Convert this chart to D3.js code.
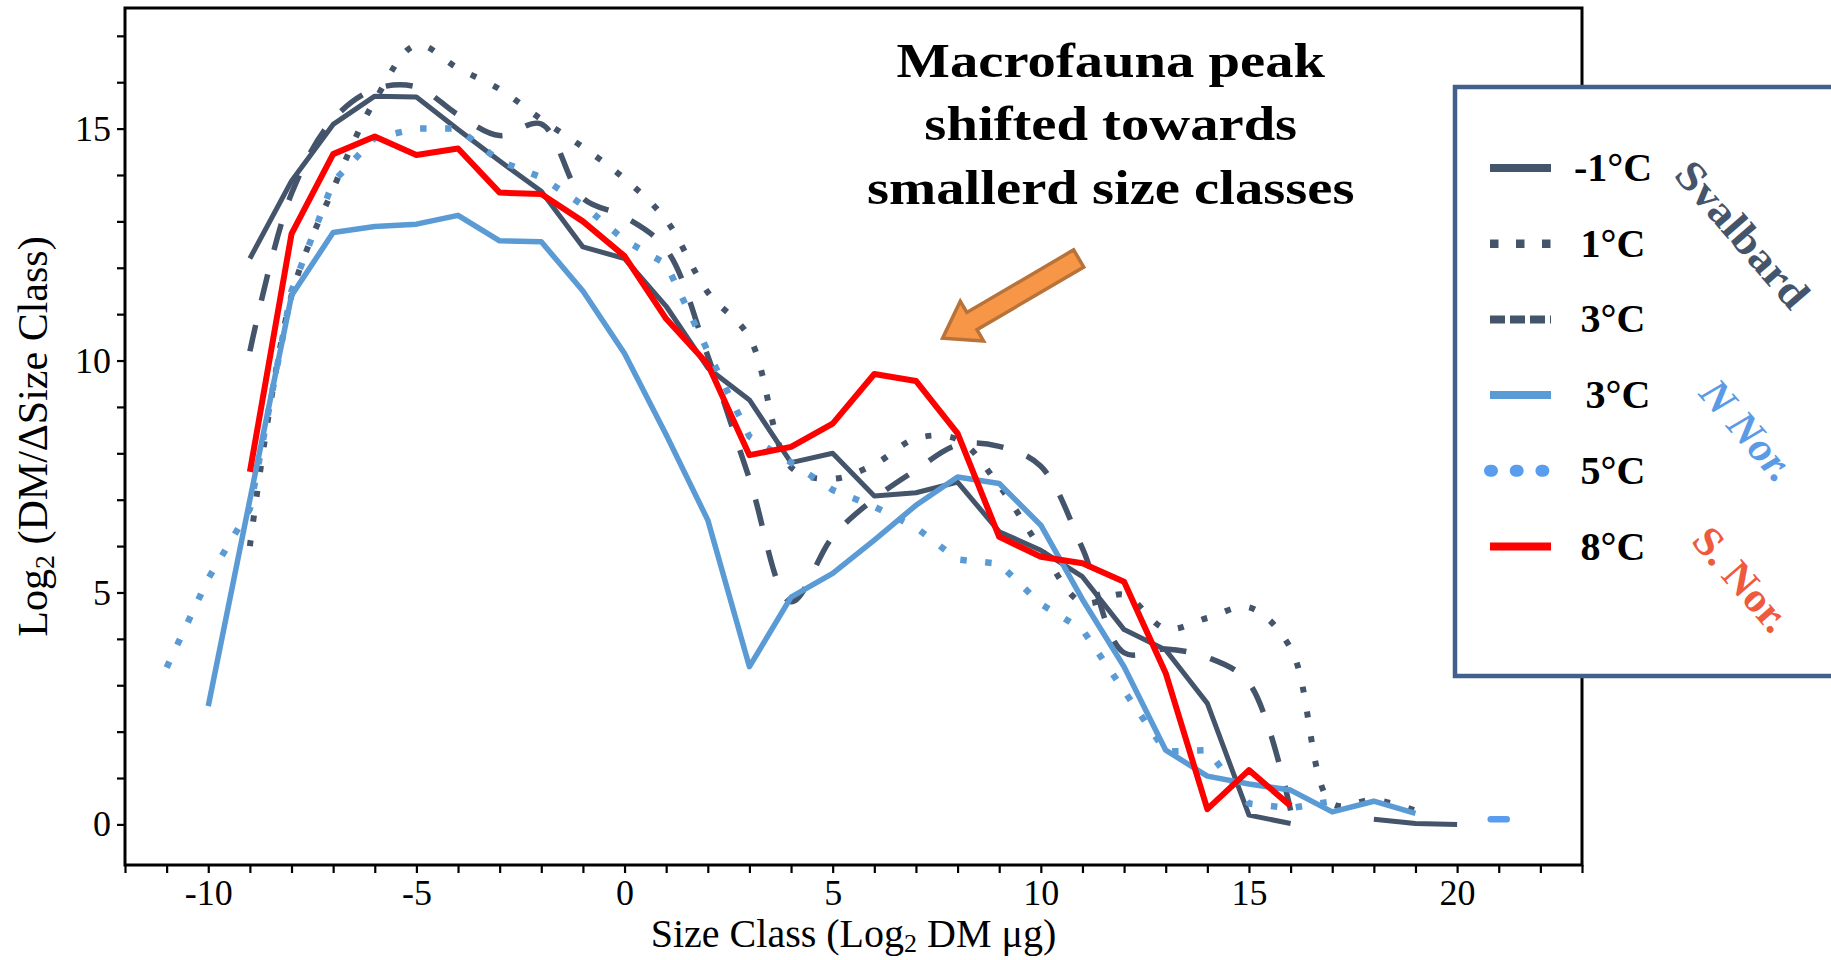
<!DOCTYPE html>
<html>
<head>
<meta charset="utf-8">
<script src="https://cdn.jsdelivr.net/npm/d3@7"></script>
<style>
  html, body { margin: 0; padding: 0; background: #ffffff; }
  svg { display: block; }
  text { font-family: "Liberation Serif", "Times New Roman", serif; }
</style>
</head>
<body>
<svg id="chart" width="1831" height="960"></svg>
<script>
// Size classes (log2 dry mass, µg)
const sizeClass = [-11, -10, -9, -8, -7, -6, -5, -4, -3, -2, -1, 0, 1, 2, 3, 4, 5, 6, 7, 8, 9, 10,
                   11, 12, 13, 14, 15, 16, 17, 18, 19, 20, 21];

// Log2 (DM / ΔSize class) per size class; null = no data
const svalbardMinus1 = [null, null, 12.2, 13.87, 15.09, 15.7, 15.68, 14.98, 14.3, 13.65, 12.45, 12.2, 11.17,
                        9.84, 9.15, 7.8, 8.0, 7.08, 7.15, 7.38, 6.31, 5.91, 5.34, 4.2, 3.76, 2.61, 0.2, 0.02,
                        null, 0.11, 0.02, 0.0, null];
const svalbard1 = [null, null, 6.0, 11.4, 13.7, 15.6, 16.8, 16.3, 15.85, 15.2, 14.6, 13.92, 13.03,
                   11.47, 10.5, 7.7, 7.45, 7.76, 8.32, 8.3, 7.3, 5.95, 4.78, 4.95, 4.22, 4.45, 4.68, 3.8,
                   0.45, 0.53, 0.3, null, null];
const svalbard3 = [null, null, 10.2, 13.6, 15.2, 15.85, 15.9, 15.3, 14.85, 15.1, 13.5, 13.1, 12.4,
                   10.1, 7.45, 4.8, 6.2, 7.02, 7.64, 8.18, 8.15, 7.72, 5.95, 3.7, 3.78, 3.6, 3.05, 0.3,
                   null, null, null, null, null];
const nNorway3 = [null, 2.55, 7.0, 11.4, 12.76, 12.89, 12.94, 13.13, 12.58, 12.56, 11.5, 10.15, 8.4,
                  6.56, 3.4, 4.9, 5.41, 6.13, 6.88, 7.49, 7.35, 6.45, 4.85, 3.4, 1.6, 1.04, 0.87, 0.74,
                  0.27, 0.5, 0.24, null, null];
const nNorway5 = [3.38, 5.3, 6.8, 11.5, 13.85, 14.8, 15.0, 15.0, 14.3, 13.95, 13.35, 12.6, 12.08,
                  10.2, 8.36, 7.8, 7.21, 6.85, 6.4, 5.71, 5.62, 4.75, 4.2, 2.88, 1.57, 1.6, 0.45, 0.35,
                  0.5, null, null, null, 0.11];
const sNorway8 = [null, null, 7.6, 12.73, 14.45, 14.83, 14.43, 14.57, 13.62, 13.59, 13.0, 12.25, 10.9,
                  9.92, 7.96, 8.14, 8.64, 9.71, 9.56, 8.43, 6.2, 5.77, 5.63, 5.23, 3.26, 0.33, 1.17, 0.4,
                  null, null, null, null, null];

// Axis ticks
const xMinorTicks = d3.range(-12, 24);
const xTickLabels = [-10, -5, 0, 5, 10, 15, 20];
const yMinorTicks = d3.range(0, 18);
const yTickLabels = [0, 5, 10, 15];

// Legend text
const legendLabels = ["-1°C", "1°C", "3°C", "3°C", "5°C", "8°C"];
const regionLabels = ["Svalbard", "N Nor.", "S. Nor."];
const noteLines = ["Macrofauna peak", "shifted towards", "smallerd size classes"];

const slate = "#44546A", blue = "#5B9BD5", red = "#FF0000";

const series = [
  { label: legendLabels[0], values: svalbardMinus1, color: slate, width: 5, dash: null, curve: d3.curveLinear,
    key: { width: 8, dash: null, cap: "butt", color: slate } },
  { label: legendLabels[1], values: svalbard1, color: slate, width: 6, dash: "6 19", curve: d3.curveCatmullRom.alpha(0.5),
    key: { width: 8.5, dash: "8.5 17.5", cap: "butt", color: slate } },
  { label: legendLabels[2], values: svalbard3, color: slate, width: 5.5, dash: "27 25", curve: d3.curveCatmullRom.alpha(0.5),
    key: { width: 8, dash: "15 5", cap: "butt", color: slate } },
  { label: legendLabels[3], values: nNorway3, color: blue, width: 5.5, dash: null, curve: d3.curveLinear,
    key: { width: 8, dash: null, cap: "butt", color: blue } },
  { label: legendLabels[4], values: nNorway5, color: blue, width: 6.5, dash: "6.5 18.5", curve: d3.curveLinear,
    key: { width: 12, dash: "2 23.7", cap: "round", color: "#5A9CEE" } },
  { label: legendLabels[5], values: sNorway8, color: red, width: 6, dash: null, curve: d3.curveLinear,
    key: { width: 8, dash: null, cap: "butt", color: red } }
];

const svg = d3.select("#chart");
const W = 1831, H = 960;
const plot = { left: 125, right: 1582, top: 8, bottom: 865 };

const x = d3.scaleLinear().domain([-12, 23]).range([plot.left, plot.right]);
const y = d3.scaleLinear().domain([-0.875, 17.6]).range([plot.bottom, plot.top]);

svg.append("rect").attr("width", W).attr("height", H).attr("fill", "#ffffff");

// ---- data lines ----
const gLines = svg.append("g");
const drawOrder = [0, 1, 2, 4, 3, 5];
drawOrder.forEach(i => {
  const s = series[i];
  const pts = sizeClass.map((c, k) => ({ c, v: s.values[k] }));
  const line = d3.line()
    .defined(d => d.v !== null)
    .x(d => x(d.c))
    .y(d => y(d.v))
    .curve(s.curve);
  gLines.append("path")
    .datum(pts)
    .attr("d", line)
    .attr("fill", "none")
    .attr("stroke", s.color)
    .attr("stroke-width", s.width)
    .attr("stroke-linejoin", "round")
    .attr("stroke-linecap", "butt")
    .attr("stroke-dasharray", s.dash);
  // isolated values (no defined neighbour) get a short dash marker
  pts.forEach((p, k) => {
    if (p.v === null) return;
    const prev = k > 0 ? pts[k - 1].v : null;
    const next = k < pts.length - 1 ? pts[k + 1].v : null;
    if (prev === null && next === null) {
      gLines.append("line")
        .attr("x1", x(p.c) - 8).attr("x2", x(p.c) + 8)
        .attr("y1", y(p.v)).attr("y2", y(p.v))
        .attr("stroke", s.key.color)
        .attr("stroke-width", 6.5)
        .attr("stroke-linecap", "round");
    }
  });
});

// ---- axes & frame ----
const fontTick = 36;
const xAxis = d3.axisBottom(x)
  .tickValues(xMinorTicks)
  .tickSize(8)
  .tickPadding(6)
  .tickFormat(d => xTickLabels.includes(d) ? String(d) : "");
const gx = svg.append("g").attr("transform", `translate(0,${plot.bottom})`).call(xAxis);

const yAxis = d3.axisLeft(y)
  .tickValues(yMinorTicks)
  .tickSize(8)
  .tickPadding(6)
  .tickFormat(d => yTickLabels.includes(d) ? String(d) : "");
const gy = svg.append("g").attr("transform", `translate(${plot.left},0)`).call(yAxis);

[gx, gy].forEach(g => {
  g.select(".domain").remove();
  g.selectAll(".tick line").attr("stroke", "#000").attr("stroke-width", 2.2);
  g.selectAll(".tick text")
    .attr("fill", "#000")
    .style("font-family", "'Liberation Serif', serif")
    .style("font-size", fontTick + "px");
});

svg.append("rect")
  .attr("x", plot.left).attr("y", plot.top)
  .attr("width", plot.right - plot.left).attr("height", plot.bottom - plot.top)
  .attr("fill", "none").attr("stroke", "#000").attr("stroke-width", 3);

// axis titles
const xTitle = svg.append("text")
  .attr("x", (plot.left + plot.right) / 2)
  .attr("y", 947)
  .attr("text-anchor", "middle")
  .style("font-size", "40px")
  .attr("fill", "#000");
xTitle.append("tspan").text("Size Class (Log");
xTitle.append("tspan").text("2").style("font-size", "26px").attr("dy", 5);
xTitle.append("tspan").text(" DM μg)").attr("dy", -5);

const yTitle = svg.append("text")
  .attr("transform", `translate(47,${(plot.top + plot.bottom) / 2}) rotate(-90)`)
  .attr("text-anchor", "middle")
  .style("font-size", "42px")
  .attr("fill", "#000");
yTitle.append("tspan").text("Log");
yTitle.append("tspan").text("2").style("font-size", "28px").attr("dy", 7);
yTitle.append("tspan").text(" (DM/ΔSize Class)").attr("dy", -7);

// ---- annotation ----
const note = svg.append("g")
  .attr("transform", `translate(${x(11.68)},${y(16.11)}) scale(1.18,1)`);
noteLines.forEach((t, i) => {
  note.append("text")
    .attr("x", 0).attr("y", i * 63.3)
    .attr("text-anchor", "middle")
    .style("font-size", "48px")
    .style("font-weight", "bold")
    .attr("fill", "#000")
    .text(t);
});

// arrow pointing at the shifted macrofauna peak
(function drawArrow() {
  const tail = [x(10.91), y(12.2)], tip = [x(7.64), y(10.48)];
  const dx = tip[0] - tail[0], dy = tip[1] - tail[1];
  const len = Math.hypot(dx, dy);
  const ux = dx / len, uy = dy / len, nx = -uy, ny = ux;
  const shaftHalf = 10, headHalf = 23, headLen = 34;
  const bx = tip[0] - ux * headLen, by = tip[1] - uy * headLen;
  const P = (px, py, s) => [px + nx * s, py + ny * s];
  const poly = [
    P(tail[0], tail[1], shaftHalf),
    P(bx, by, shaftHalf),
    P(bx, by, headHalf),
    tip,
    P(bx, by, -headHalf),
    P(bx, by, -shaftHalf),
    P(tail[0], tail[1], -shaftHalf)
  ];
  svg.append("polygon")
    .attr("points", poly.map(p => p.join(",")).join(" "))
    .attr("fill", "#F79646")
    .attr("stroke", "#B8733A")
    .attr("stroke-width", 3.5)
    .attr("stroke-linejoin", "miter");
})();

// ---- legend ----
const lg = svg.append("g");
lg.append("rect")
  .attr("x", 1455).attr("y", 87)
  .attr("width", 500).attr("height", 589)
  .attr("fill", "#ffffff")
  .attr("stroke", "#41618C")
  .attr("stroke-width", 4.5);

series.forEach((s, i) => {
  const yy = 168 + i * 75.7;
  lg.append("line")
    .attr("x1", 1490).attr("x2", 1551)
    .attr("y1", yy).attr("y2", yy)
    .attr("stroke", s.key.color)
    .attr("stroke-width", s.key.width)
    .attr("stroke-dasharray", s.key.dash)
    .attr("stroke-linecap", s.key.cap);
  lg.append("text")
    .attr("x", i === 3 ? 1618 : 1613)
    .attr("y", yy + 13)
    .attr("text-anchor", "middle")
    .style("font-size", "40px")
    .style("font-weight", "bold")
    .attr("fill", "#000")
    .text(s.label);
});

const regions = [
  { text: regionLabels[0], cx: 1743, cy: 234, color: "#44546A", italic: false, len: 180 },
  { text: regionLabels[1], cx: 1748, cy: 430, color: "#5B9BE6", italic: true, len: 120 },
  { text: regionLabels[2], cx: 1742, cy: 579, color: "#F05A3C", italic: false, len: 124 }
];
regions.forEach(r => {
  lg.append("text")
    .attr("transform", `translate(${r.cx},${r.cy}) rotate(49)`)
    .attr("text-anchor", "middle")
    .attr("dy", "0.35em")
    .attr("textLength", r.len)
    .attr("lengthAdjust", "spacingAndGlyphs")
    .style("font-size", "42px")
    .style("font-weight", "bold")
    .style("font-style", r.italic ? "italic" : "normal")
    .attr("fill", r.color)
    .text(r.text);
});
</script>
</body>
</html>
